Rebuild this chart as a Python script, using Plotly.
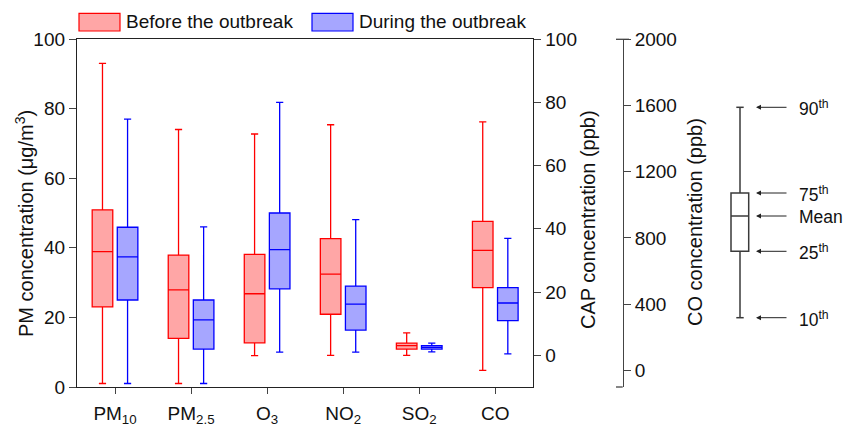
import plotly.graph_objects as go

# ---------------- data ----------------
categories = ["PM10", "PM2.5", "O3", "NO2", "SO2", "CO"]
tick_labels = ["PM<sub>10</sub>", "PM<sub>2.5</sub>", "O<sub>3</sub>",
               "NO<sub>2</sub>", "SO<sub>2</sub>", "CO"]
# axis each category is read on: PM (µg/m3), CAP (ppb), CO (ppb)
axis_of = ["pm", "pm", "pm", "cap", "cap", "co"]

before_p10 = [1, 1, 9, 0, 0, 0]
before_q1 = [23, 14, 12.7, 13, 2.0, 500]
before_mid = [38.9, 27.9, 26.8, 25.7, 3.1, 725]
before_q3 = [50.9, 37.9, 38.1, 36.9, 3.9, 900]
before_p90 = [93, 74, 72.7, 72.9, 7.1, 1500]

during_p10 = [1, 1, 10, 1, 1.1, 100]
during_q1 = [25, 10.9, 28.2, 8, 2.0, 300]
during_mid = [37.4, 19.3, 39.5, 16.2, 2.5, 407]
during_q3 = [45.9, 25, 50, 21.9, 3.1, 500]
during_p90 = [77, 46, 81.8, 42.9, 3.9, 797]

series_names = ["Before the outbreak", "During the outbreak"]
key_labels = ["90<sup>th</sup>", "75<sup>th</sup>", "Mean", "25<sup>th</sup>", "10<sup>th</sup>"]

# ---------------- layout geometry ----------------
W, H = 856, 427
ML, MR, MT, MB = 77, 0, 39, 40
PW, PH = W - ML - MR, H - MT - MB
FONT = "Liberation Sans, Arial, sans-serif"


def px(x):
    return (x - ML) / PW


def py(y):
    return (H - MB - y) / PH


yref_of = {"pm": "y", "cap": "y2", "co": "y3"}
styles = [
    dict(line="#FF0000", fill="rgba(255,0,0,0.35)", group="before"),
    dict(line="#0000FF", fill="rgba(0,0,255,0.35)", group="during"),
]
stats = [
    (before_p10, before_q1, before_mid, before_q3, before_p90),
    (during_p10, during_q1, during_mid, during_q3, during_p90),
]

fig = go.Figure()
for key in ["pm", "cap", "co"]:
    idx = [i for i, a in enumerate(axis_of) if a == key]
    for s, (lo, q1, mid, q3, hi) in enumerate(stats):
        st = styles[s]
        fig.add_trace(go.Box(
            x=[categories[i] for i in idx],
            lowerfence=[lo[i] for i in idx],
            q1=[q1[i] for i in idx],
            median=[mid[i] for i in idx],
            q3=[q3[i] for i in idx],
            upperfence=[hi[i] for i in idx],
            name=series_names[s],
            offsetgroup=st["group"],
            line=dict(color=st["line"], width=1.3),
            fillcolor=st["fill"],
            whiskerwidth=0.35,
            boxpoints=False,
            showlegend=False,
            hoverinfo="skip",
            yaxis=yref_of[key],
        ))

axis_common = dict(showgrid=False, zeroline=False, showline=True,
                   linewidth=1.3, ticks="outside", tickwidth=1.3,
                   tickfont=dict(size=19, color="#111", family=FONT))

fig.update_layout(
    width=W, height=H,
    margin=dict(l=ML, r=MR, t=MT, b=MB),
    template="none",
    paper_bgcolor="white", plot_bgcolor="white",
    font=dict(family=FONT, color="#111"),
    boxmode="group", boxgap=0.34, boxgroupgap=0.18,
    showlegend=False,
    xaxis=dict(domain=[0, px(533.3)], type="category",
               categoryorder="array", categoryarray=categories,
               range=[-0.5, 5.5], tickmode="array", tickvals=categories,
               ticktext=tick_labels, linecolor="#222", mirror=True,
               ticklen=6, ticklabelstandoff=3, automargin=False, **axis_common),
    yaxis=dict(range=[0, 100], tick0=0, dtick=20, linecolor="#222",
               mirror=True, ticklen=7, automargin=False, **axis_common),
    yaxis2=dict(range=[-10, 100], tick0=0, dtick=20, overlaying="y",
                side="right", anchor="x", linecolor="#222", ticklen=7,
                automargin=False, **axis_common),
    yaxis3=dict(range=[-100, 2000], tick0=0, dtick=400, overlaying="y",
                side="right", anchor="free", position=px(622.7),
                linecolor="#444", ticklen=7, automargin=False, **axis_common),
)

annotations = []
shapes = []

# axis titles
for text, xc, yc in [
    ("PM concentration (μg/m<sup>3</sup>)", 24.5, 223.5),
    ("CAP concentration (ppb)", 587.5, 219.5),
    ("CO concentration (ppb)", 694.5, 222.5),
]:
    annotations.append(dict(text=text, xref="paper", yref="paper",
                            x=px(xc), y=py(yc), xanchor="center",
                            yanchor="middle", textangle=-90, showarrow=False,
                            font=dict(size=20, family=FONT, color="#111")))

# legend (drawn)
for s, (x0, x1, tx) in enumerate([(79, 120, 124), (312, 353, 356.5)]):
    st = styles[s]
    shapes.append(dict(type="rect", xref="paper", yref="paper",
                       x0=px(x0), x1=px(x1), y0=py(31), y1=py(13.3),
                       fillcolor=st["fill"], line=dict(color=st["line"], width=1.2)))
    annotations.append(dict(text=series_names[s], xref="paper", yref="paper",
                            x=px(tx), y=py(22), xanchor="left", yanchor="middle",
                            showarrow=False,
                            font=dict(size=19, family=FONT, color="#111")))

# CO axis end caps
shapes.append(dict(type="line", xref="paper", yref="paper", x0=px(616),
                   x1=px(629), y0=py(39.3), y1=py(39.3),
                   line=dict(color="#444", width=1.3)))
shapes.append(dict(type="line", xref="paper", yref="paper", x0=px(616),
                   x1=px(622.7), y0=py(387), y1=py(387),
                   line=dict(color="#444", width=1.3)))

# key box diagram
KC = "#3a3a3a"
kx, kbx0, kbx1 = 740, 731, 748.7
k_y = [107.3, 193, 216, 251.3, 317.7]
shapes.append(dict(type="line", xref="paper", yref="paper", x0=px(kx), x1=px(kx),
                   y0=py(k_y[0]), y1=py(k_y[4]), line=dict(color=KC, width=1.5)))
for yy in (k_y[0], k_y[4]):
    shapes.append(dict(type="line", xref="paper", yref="paper", x0=px(736.3),
                       x1=px(743.7), y0=py(yy), y1=py(yy), line=dict(color=KC, width=1.5)))
shapes.append(dict(type="rect", xref="paper", yref="paper", x0=px(kbx0), x1=px(kbx1),
                   y0=py(k_y[3]), y1=py(k_y[1]), fillcolor="white",
                   line=dict(color=KC, width=1.5)))
shapes.append(dict(type="line", xref="paper", yref="paper", x0=px(kbx0), x1=px(kbx1),
                   y0=py(k_y[2]), y1=py(k_y[2]), line=dict(color=KC, width=1.5)))
for lab, yy in zip(key_labels, k_y):
    annotations.append(dict(text="", xref="paper", yref="paper", x=px(756), y=py(yy),
                            ax=32, ay=0, showarrow=True, arrowhead=2, arrowsize=1,
                            arrowwidth=1, arrowcolor="#222"))
    annotations.append(dict(text=lab, xref="paper", yref="paper", x=px(797), y=py(yy + 1),
                            xanchor="left", yanchor="middle", showarrow=False,
                            font=dict(size=17.5, family=FONT, color="#111")))

fig.update_layout(annotations=annotations, shapes=shapes)
fig.write_html("out.html", config={"displayModeBar": False},
               post_script="document.body.style.margin='0';document.body.style.overflow='hidden';")
